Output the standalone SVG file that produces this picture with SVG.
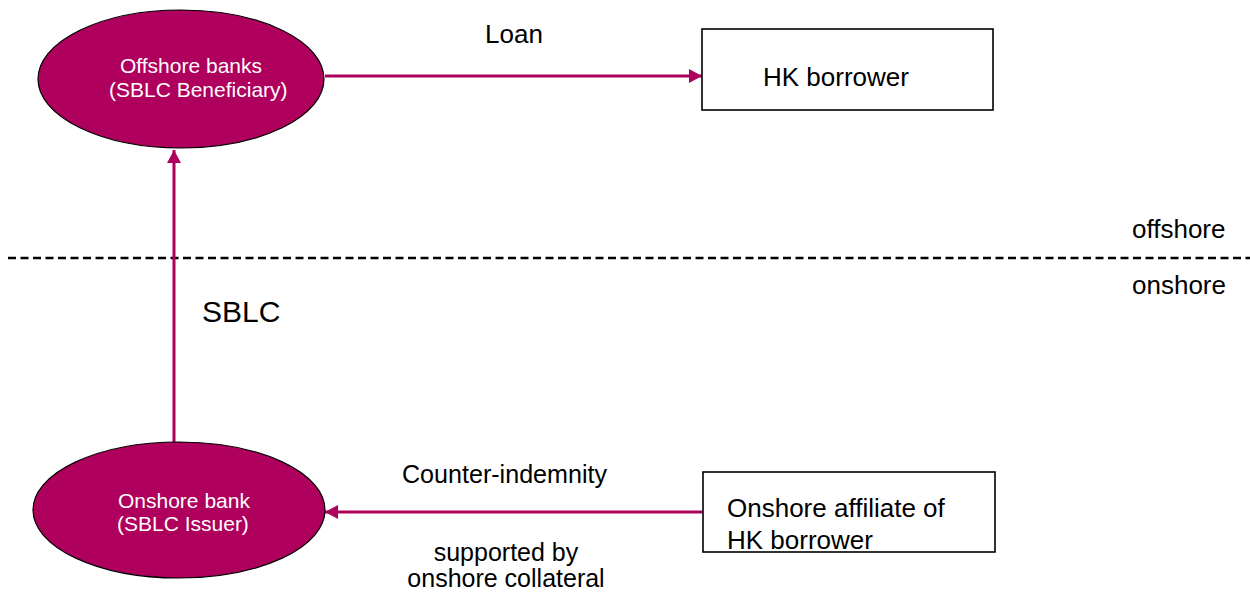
<svg xmlns="http://www.w3.org/2000/svg" width="1250" height="592" viewBox="0 0 1250 592">
<style>
text{font-family:"Liberation Sans",Arial,sans-serif}
.bank{fill:#AE005C;stroke:#000;stroke-width:1.2}
.wt{fill:#fff;font-size:21px}
.box{fill:#fff;stroke:#000;stroke-width:1.6}
.lbl{fill:#000;font-size:26px}
.conn{stroke:#AE005C;stroke-width:3;fill:none}
</style>
<defs>
<marker id="ah" markerUnits="userSpaceOnUse" markerWidth="14" markerHeight="15" refX="13" refY="7" orient="auto">
<path d="M0,0 L13,7 L0,14 Z" fill="#AE005C"/>
</marker>
</defs>
<rect width="1250" height="592" fill="#fff"/>
<g id="divider">
<line x1="8" y1="258" x2="1250" y2="258" stroke="#000" stroke-width="2.5" stroke-dasharray="8,4.5"/>
<text class="lbl" x="1132" y="238">offshore</text>
<text class="lbl" x="1132" y="294">onshore</text>
</g>
<g id="connectors">
<line class="conn" x1="325" y1="76" x2="702" y2="76" marker-end="url(#ah)"/>
<line class="conn" x1="174" y1="442" x2="174" y2="150" marker-end="url(#ah)"/>
<line class="conn" x1="703" y1="512" x2="325" y2="512" marker-end="url(#ah)"/>
<text class="lbl" x="485" y="43">Loan</text>
<text x="202" y="322" style="font-size:30px">SBLC</text>
<text class="lbl" x="402" y="483" textLength="205" lengthAdjust="spacingAndGlyphs">Counter-indemnity</text>
<text class="lbl" x="506" y="561" text-anchor="middle" style="font-size:25px">supported by</text>
<text class="lbl" x="506" y="587" text-anchor="middle" style="font-size:25px">onshore collateral</text>
</g>
<g id="offshore-banks">
<ellipse class="bank" cx="181" cy="79" rx="143" ry="69"/>
<text class="wt" x="120" y="73">Offshore banks</text>
<text class="wt" x="109" y="97">(SBLC Beneficiary)</text>
</g>
<g id="hk-borrower">
<rect class="box" x="702" y="29" width="291" height="81"/>
<text class="lbl" x="763" y="86">HK borrower</text>
</g>
<g id="onshore-bank">
<ellipse class="bank" cx="179" cy="510" rx="146" ry="68"/>
<text class="wt" x="118" y="508">Onshore bank</text>
<text class="wt" x="117" y="531">(SBLC Issuer)</text>
</g>
<g id="onshore-affiliate">
<rect class="box" x="703" y="472" width="292" height="80"/>
<text class="lbl" x="727" y="517">Onshore affiliate of</text>
<text class="lbl" x="727" y="549">HK borrower</text>
</g>
</svg>
